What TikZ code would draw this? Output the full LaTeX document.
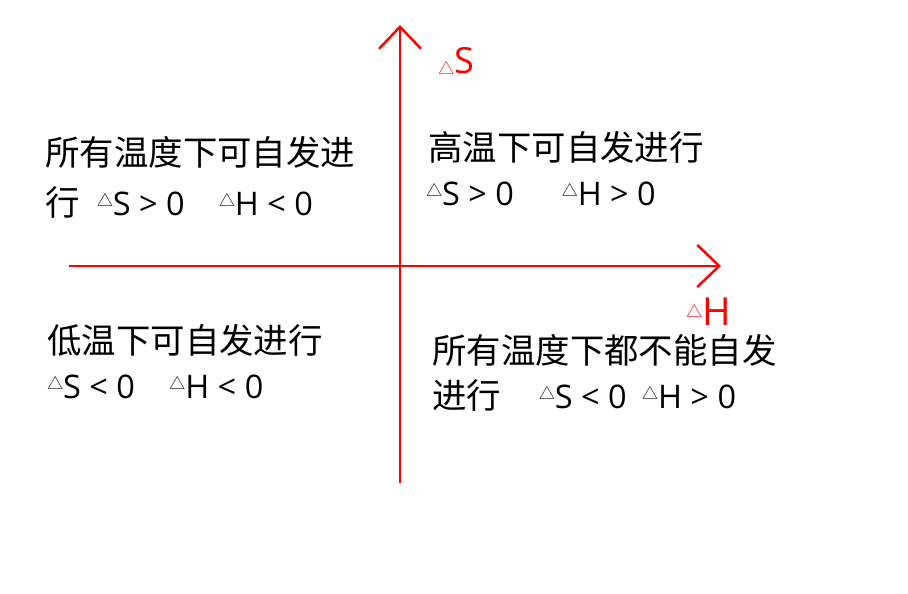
\documentclass[tikz,border=0pt]{standalone}
\usepackage{fontspec}
\setmainfont{Noto Sans CJK SC}
\newfontfamily\latfont{Open Sans}
\usetikzlibrary{arrows.meta}
\newcommand\tri[1][5pt]{\raisebox{#1}{\fontsize{9}{9}\selectfont △}}
\newcommand\lat[1]{{\latfont\fontsize{18.5}{20}\selectfont #1}}

\begin{document}
\begin{tikzpicture}[x=0.02cm,y=-0.02cm,
    axis/.style={red,line width=1.4pt,
      -{Straight Barb[length=0.44cm,width=0.84cm,line width=1.4pt]}},
    txt/.style={anchor=base west,inner sep=0pt,
      font=\fontsize{19.6}{24}\selectfont},
    lbl/.style={txt,text=red}]
        \useasboundingbox (0,0) rectangle (908,593);
        \coordinate (hL) at (69,266);
        \coordinate (hR) at (721,266);
        \coordinate (vB) at (400,483);
        \coordinate (vT) at (400,25);
        \draw[axis] (hL)--(hR);
        \draw[axis] (vB)--(vT);
        \node[lbl] (dS) at (438,73) {\tri[-1pt]{\latfont\fontsize{20.5}{24}\selectfont S}};
        \node[lbl] (dH) at (686,325) {\tri[4pt]{\latfont\fontsize{22}{24}\selectfont H}};
        \node[txt] (tl1) at (45,165) {所有温度下可自发进};
        \node[txt] (tl2) at (45,215) {行\hspace{0.5em}\tri\lat{S > 0}\quad\tri\lat{H < 0}};
        \node[txt] (tr1) at (428,160) {高温下可自发进行};
        \node[txt] (tr2) at (426,205) {\tri\lat{S > 0}\quad\ \,\tri\lat{H > 0}};
        \node[txt] (bl1) at (47,353) {低温下可自发进行};
        \node[txt] (bl2) at (47,398) {\tri\lat{S < 0}\quad\tri\lat{H < 0}};
        \node[txt] (br1) at (432,363) {所有温度下都不能自发};
        \node[txt] (br2) at (432,408) {进行\hspace{1.1em}\tri\lat{S < 0}\ \ \tri\lat{H > 0}};
    \end{tikzpicture}
\end{document}
